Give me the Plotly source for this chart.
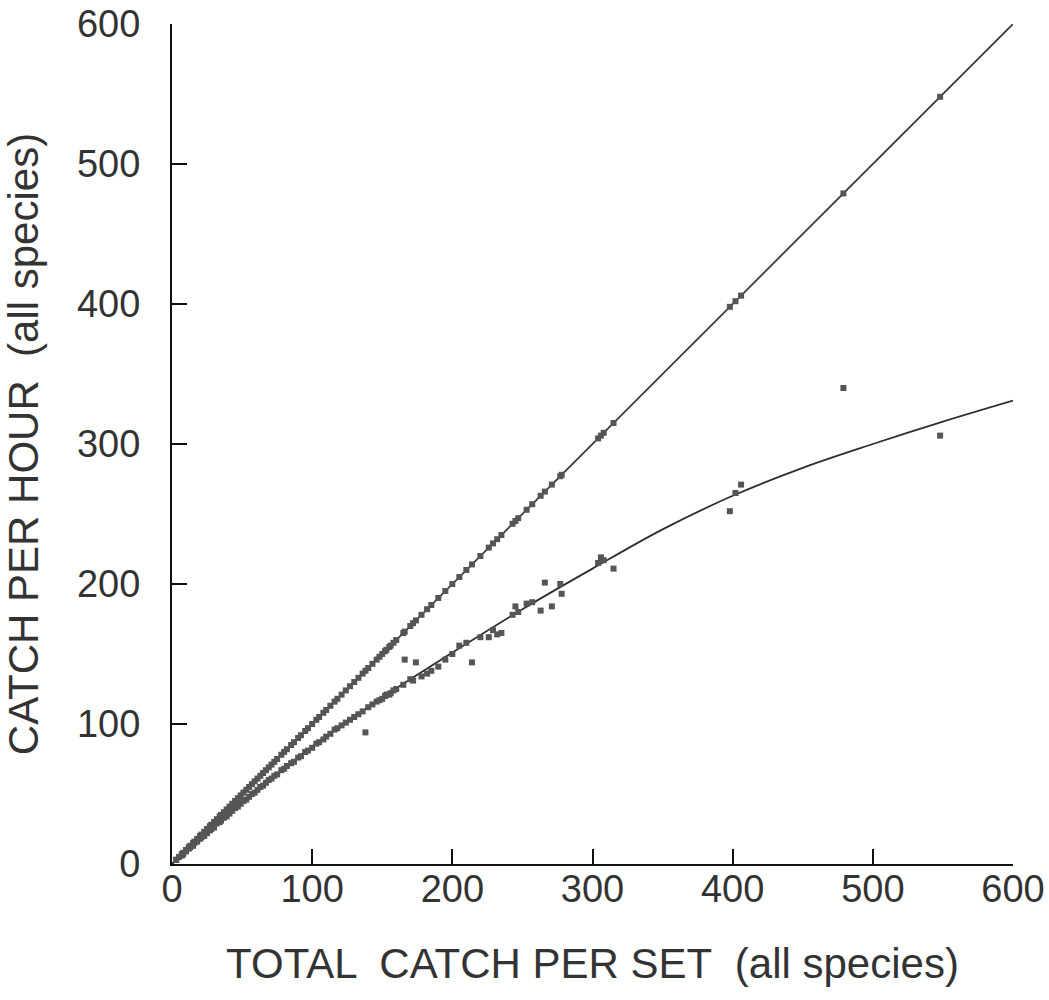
import plotly.graph_objects as go

# --- data ---
# upper series: catch per set plotted against itself (1:1 line)
upper_x = [3, 5, 7, 8, 10, 12, 13, 15, 16, 18, 20, 21, 23, 25, 27, 28, 30, 32, 34, 35,
           37, 39, 41, 43, 45, 47, 49, 51, 53, 55, 57, 59, 61, 63, 65, 67, 69, 71, 73, 75,
           78, 80, 82, 85, 87, 90, 92, 95, 97, 100, 103, 105, 108, 110, 113, 116, 118, 121,
           124, 127, 130, 133, 136, 138, 140, 143, 146, 148, 150, 152, 153, 155, 156, 158, 160,
           165, 166, 170, 172, 174, 178, 182, 185, 190, 195, 200, 205, 210, 214, 220, 226,
           229, 232, 235, 243, 245, 247, 253, 257, 263, 266, 271, 277, 278, 304, 306, 308,
           315, 398, 402, 406, 479, 548]
upper_y = [3, 5, 7, 8, 10, 12, 13, 15, 16, 18, 20, 21, 23, 25, 27, 28, 30, 32, 34, 35,
           37, 39, 41, 43, 45, 47, 49, 51, 53, 55, 57, 59, 61, 63, 65, 67, 69, 71, 73, 75,
           78, 80, 82, 85, 87, 90, 92, 95, 97, 100, 103, 105, 108, 110, 113, 116, 118, 121,
           124, 127, 130, 133, 136, 138, 140, 143, 146, 148, 150, 152, 153, 155, 156, 158, 160,
           165, 166, 170, 172, 174, 178, 182, 185, 190, 195, 200, 205, 210, 214, 220, 226,
           229, 232, 235, 243, 245, 247, 253, 257, 263, 266, 271, 277, 278, 304, 306, 308,
           315, 398, 402, 406, 479, 548]

# lower series: catch per hour against catch per set
lower_x = [3, 5, 7, 8, 10, 12, 13, 15, 16, 18, 20, 21, 23, 25, 27, 28, 30, 32, 34, 35,
           37, 39, 41, 43, 45, 47, 49, 51, 53, 55, 57, 59, 61, 63, 65, 67, 69, 71, 73, 75,
           78, 80, 82, 85, 87, 90, 92, 95, 97, 100, 103, 105, 108, 110, 113, 116, 118, 121,
           124, 127, 130, 133, 136, 138, 140, 143, 146, 148, 150, 152, 153, 155, 156, 158, 160,
           165, 166, 170, 172, 174, 178, 182, 185, 190, 195, 200, 205, 210, 214, 220, 226,
           229, 232, 235, 243, 245, 247, 253, 257, 263, 266, 271, 277, 278, 304, 306, 308,
           315, 398, 402, 406, 479, 548]
lower_y = [3, 5, 6, 7, 9, 11, 12, 13, 15, 16, 18, 19, 20, 22, 24, 25, 26, 29, 30, 31,
           33, 34, 36, 38, 40, 41, 43, 45, 46, 48, 50, 51, 53, 55, 56, 58, 60, 61, 63, 64,
           67, 68, 70, 72, 73, 76, 77, 80, 81, 83, 86, 87, 89, 91, 93, 96, 97, 99,
           101, 103, 105, 107, 109, 94, 112, 114, 116, 117, 118, 120, 121, 121, 122, 124, 125,
           128, 146, 132, 131, 144, 134, 136, 138, 141, 146, 150, 156, 158, 144, 162, 162,
           167, 164, 165, 178, 184, 180, 186, 187, 181, 201, 184, 200, 193, 215, 219, 217,
           211, 252, 265, 271, 340, 306]

# fitted curve through the lower series
curve_x = [0, 50, 100, 150, 200, 250, 300, 350, 400, 450, 500, 550, 600]
curve_y = [0, 44, 84, 119, 151, 182, 211, 239, 263, 283, 300, 316, 331]

# 1:1 line
diag_x = [0, 600]
diag_y = [0, 600]

tick_vals = [0, 100, 200, 300, 400, 500, 600]
tick_text = ["0", "100", "200", "300", "400", "500", "600"]

FONT = "Liberation Sans"
TXT = "#333333"

fig = go.Figure()
fig.add_trace(go.Scatter(x=diag_x, y=diag_y, mode="lines",
                         line=dict(color="#3a3a3a", width=1.8), showlegend=False,
                         cliponaxis=False))
fig.add_trace(go.Scatter(x=curve_x, y=curve_y, mode="lines",
                         line=dict(color="#2e2e2e", width=1.8, shape="spline"),
                         showlegend=False, cliponaxis=False))
fig.add_trace(go.Scatter(x=upper_x, y=upper_y, mode="markers",
                         marker=dict(symbol="square", size=6, color="#555555"),
                         showlegend=False, cliponaxis=False))
fig.add_trace(go.Scatter(x=lower_x, y=lower_y, mode="markers",
                         marker=dict(symbol="square", size=6, color="#555555"),
                         showlegend=False, cliponaxis=False))

axis_common = dict(
    range=[0, 600], tickvals=tick_vals, ticktext=tick_text,
    ticks="inside", ticklen=15, tickwidth=2, tickcolor="#111",
    showline=True, linecolor="#111", linewidth=2,
    showgrid=False, zeroline=False, automargin=False,
    tickfont=dict(family=FONT, size=38, color=TXT),
)

fig.update_layout(
    width=1049, height=1000,
    margin=dict(l=172, r=36, t=24, b=136),
    plot_bgcolor="white", paper_bgcolor="white",
    xaxis=dict(**axis_common, ticklabelstandoff=-10,
               title=dict(text="TOTAL  CATCH PER SET  (all species)",
                          font=dict(family=FONT, size=42, color=TXT), standoff=40)),
    yaxis=dict(**axis_common, ticklabelstandoff=22,
               title=dict(text="CATCH PER HOUR  (all species)",
                          font=dict(family=FONT, size=42, color=TXT), standoff=28)),
)

fig.write_html("out.html")
